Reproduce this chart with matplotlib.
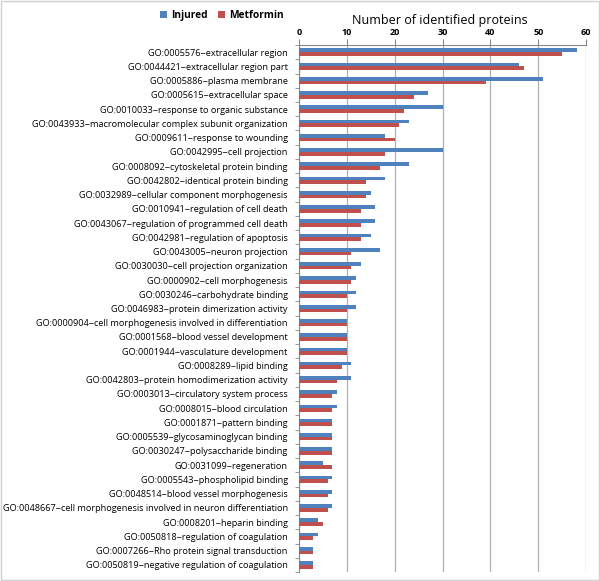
import matplotlib.pyplot as plt
import numpy as np

terms = [
    "GO:0005576~extracellular region",
    "GO:0044421~extracellular region part",
    "GO:0005886~plasma membrane",
    "GO:0005615~extracellular space",
    "GO:0010033~response to organic substance",
    "GO:0043933~macromolecular complex subunit organization",
    "GO:0009611~response to wounding",
    "GO:0042995~cell projection",
    "GO:0008092~cytoskeletal protein binding",
    "GO:0042802~identical protein binding",
    "GO:0032989~cellular component morphogenesis",
    "GO:0010941~regulation of cell death",
    "GO:0043067~regulation of programmed cell death",
    "GO:0042981~regulation of apoptosis",
    "GO:0043005~neuron projection",
    "GO:0030030~cell projection organization",
    "GO:0000902~cell morphogenesis",
    "GO:0030246~carbohydrate binding",
    "GO:0046983~protein dimerization activity",
    "GO:0000904~cell morphogenesis involved in differentiation",
    "GO:0001568~blood vessel development",
    "GO:0001944~vasculature development",
    "GO:0008289~lipid binding",
    "GO:0042803~protein homodimerization activity",
    "GO:0003013~circulatory system process",
    "GO:0008015~blood circulation",
    "GO:0001871~pattern binding",
    "GO:0005539~glycosaminoglycan binding",
    "GO:0030247~polysaccharide binding",
    "GO:0031099~regeneration",
    "GO:0005543~phospholipid binding",
    "GO:0048514~blood vessel morphogenesis",
    "GO:0048667~cell morphogenesis involved in neuron differentiation",
    "GO:0008201~heparin binding",
    "GO:0050818~regulation of coagulation",
    "GO:0007266~Rho protein signal transduction",
    "GO:0050819~negative regulation of coagulation",
]
injured = [58, 46, 51, 27, 30, 23, 18, 30, 23, 18, 15, 16, 16, 15, 17, 13, 12, 12, 12,
           10, 10, 10, 11, 11, 8, 8, 7, 7, 7, 5, 7, 7, 7, 4, 4, 3, 3]
metformin = [55, 47, 39, 24, 22, 21, 20, 18, 17, 14, 14, 13, 13, 13, 11, 11, 11, 10, 10,
             10, 10, 10, 9, 8, 7, 7, 7, 7, 7, 7, 6, 6, 6, 5, 3, 3, 3]

plt.rcParams['font.family'] = ['Open Sans', 'DejaVu Sans']

fig = plt.figure(figsize=(6, 5.81), dpi=100)
ax = fig.add_axes([0.498, 0.0155, 0.479, 0.907])

y = np.arange(len(terms))
h = 0.26
ax.barh(y - h / 2, injured, height=h, color="#4f81bd", label="Injured", zorder=3)
ax.barh(y + h / 2, metformin, height=h, color="#c0504d", label="Metformin", zorder=3)

ax.set_ylim(len(terms) - 0.5, -0.5)
ax.set_xlim(0, 60)
ax.set_yticks(y)
ax.set_yticklabels(terms, fontsize=6.6)
ax.set_yticks(np.arange(len(terms) + 1) - 0.5, minor=True)
ax.tick_params(axis="y", which="major", length=0, pad=8)
ax.tick_params(axis="y", which="minor", length=3, color="#888888")

ax.xaxis.tick_top()
ax.set_xticks(range(0, 61, 10))
ax.tick_params(axis="x", length=4, color="#888888", labelsize=6.5, pad=2)
for t in ax.get_xticklabels():
    t.set_fontweight("bold")
ax.grid(axis="x", color="#b0b0b0", linewidth=0.9, zorder=0)

for s in ["right", "bottom"]:
    ax.spines[s].set_visible(False)
ax.spines["left"].set_color("#888888")
ax.spines["top"].set_color("#888888")

fig.text(0.733, 0.965, "Number of identified proteins", ha="center", va="center", fontsize=9)
fig.legend(loc="center", bbox_to_anchor=(0.37, 0.973), ncol=2, frameon=False,
           prop={"weight": "bold", "size": 7.3}, handlelength=0.7, handleheight=0.7,
           columnspacing=1.0, handletextpad=0.4)

fig.patches.append(plt.Rectangle((0.002, 0.002), 0.996, 0.996, transform=fig.transFigure,
                                 fill=False, edgecolor="#d0d0d0", linewidth=1))
fig.savefig("out.png", dpi=100)
